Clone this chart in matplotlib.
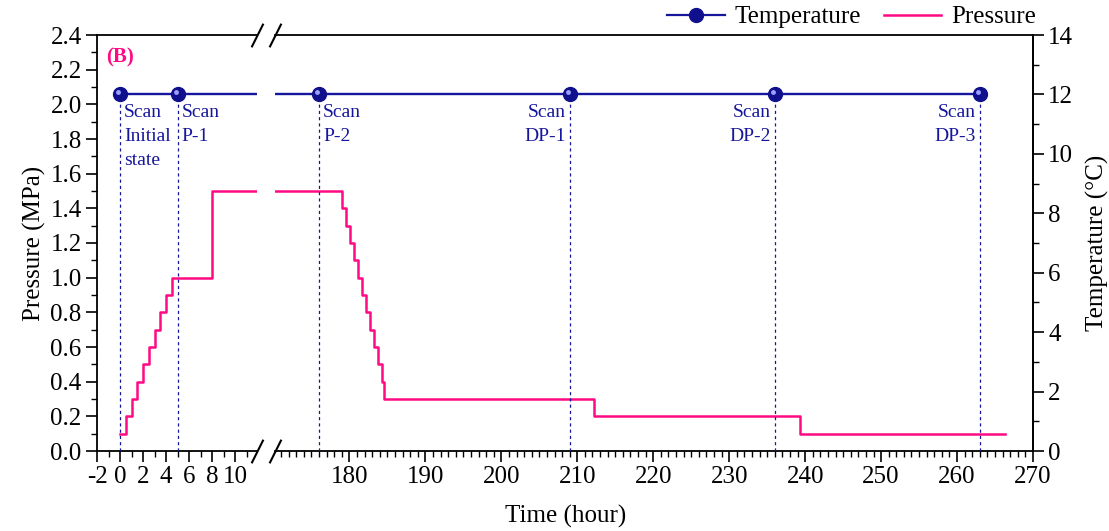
import matplotlib.pyplot as plt
from matplotlib.ticker import MultipleLocator
from matplotlib.transforms import offset_copy

plt.rcParams['font.family'] = ['Liberation Serif', 'DejaVu Serif']
plt.rcParams['axes.unicode_minus'] = False

# Pressure steps: value holds from each hour until the next one
p_hours = [0, 0.5, 1, 1.5, 2, 2.5, 3, 3.5, 4, 4.5, 8,
           179, 179.5, 180.1, 180.6, 181.1, 181.7, 182.2, 182.7, 183.2,
           183.8, 184.3, 184.6, 212.2, 239.3, 266.3]
p_values = [0.1, 0.2, 0.3, 0.4, 0.5, 0.6, 0.7, 0.8, 0.9, 1.0, 1.5,
            1.4, 1.3, 1.2, 1.1, 1.0, 0.9, 0.8, 0.7, 0.6,
            0.5, 0.4, 0.3, 0.2, 0.1, 0.1]

# Scan times and set temperature
t_hours = [0, 5, 176, 209, 236, 263]
t_values = [12, 12, 12, 12, 12, 12]
scan_labels = ["Scan\nInitial\nstate", "Scan\nP-1", "Scan\nP-2",
               "Scan\nDP-1", "Scan\nDP-2", "Scan\nDP-3"]
label_side = ["right", "right", "right", "left", "left", "left"]

PINK = "#ff0a84"
BLUE = "#16169c"
FS = 18

W, H = 1109, 531
fig = plt.figure(figsize=(W / 100, H / 100), dpi=100)
top, bot = 35, 451
ax1 = fig.add_axes([97 / W, 1 - bot / H, (257 - 97) / W, (bot - top) / H])
ax2 = fig.add_axes([275 / W, 1 - bot / H, (1033 - 275) / W, (bot - top) / H],
                   sharey=ax1)
ax1.set_xlim(-2, 11.88)
ax2.set_xlim(170.2, 270)
ax1.set_ylim(0, 2.4)

tw1 = ax1.twinx()
tw2 = ax2.twinx()
for tw in (tw1, tw2):
    tw.set_ylim(0, 14)

for ax, tw in ((ax1, tw1), (ax2, tw2)):
    ax.plot(p_hours, p_values, drawstyle="steps-post", color=PINK, lw=1.8)
    tw.vlines(t_hours, 0, t_values, colors=BLUE, linestyles=(0, (2.5, 2.5)),
              lw=0.9)
    tw.plot(t_hours, t_values, color=BLUE, lw=1.7, marker="o",
            markersize=10, markerfacecolor="#10108c", markeredgecolor="#10108c")
    # small highlight on each sphere marker
    hl = offset_copy(tw.transData, fig=fig, x=-2, y=2, units="dots")
    tw.plot(t_hours, t_values, linestyle="none", marker="o", markersize=3.5,
            markerfacecolor="#9aa0ff", markeredgecolor="none", transform=hl)

# scan annotations
for ax, tw in ((ax1, tw1), (ax2, tw2)):
    lo, hi = ax.get_xlim()
    for h, v, lab, side in zip(t_hours, t_values, scan_labels, label_side):
        if lo <= h <= hi:
            dx = 3 if side == "right" else -3
            tw.annotate(lab, (h, v), xytext=(dx, -7), textcoords="offset points",
                        ha="left" if side == "right" else "right", va="top",
                        color=BLUE, fontsize=14, linespacing=1.55)

# spines and ticks
ax1.spines["right"].set_visible(False)
ax2.spines["left"].set_visible(False)
for s in tw1.spines.values():
    s.set_visible(False)
tw1.tick_params(right=False, labelright=False, which="both")
for s in ("left", "top", "bottom"):
    tw2.spines[s].set_visible(False)
for ax in (ax1, ax2, tw1, tw2):
    for s in ax.spines.values():
        s.set_linewidth(1.3)

ax1.xaxis.set_major_locator(MultipleLocator(2))
ax1.xaxis.set_minor_locator(MultipleLocator(1))
ax2.xaxis.set_major_locator(MultipleLocator(10))
ax2.xaxis.set_minor_locator(MultipleLocator(1))
ax1.yaxis.set_major_locator(MultipleLocator(0.2))
ax1.yaxis.set_minor_locator(MultipleLocator(0.1))
ax1.yaxis.set_major_formatter(plt.FormatStrFormatter("%.1f"))
tw2.yaxis.set_major_locator(MultipleLocator(2))
tw2.yaxis.set_minor_locator(MultipleLocator(1))

for ax in (ax1, ax2, tw2):
    ax.tick_params(which="major", direction="out", length=8, width=1.2,
                   labelsize=FS, pad=3)
    ax.tick_params(which="minor", direction="out", length=4, width=1.0)
ax2.tick_params(axis="y", which="both", left=False, labelleft=False)

ax1.set_ylabel("Pressure (MPa)", fontsize=FS, labelpad=3)
tw2.set_ylabel("Temperature (\u00b0C)", fontsize=FS, labelpad=9)
fig.text(566 / W, 1 - 516 / H, "Time (hour)", ha="center", va="center",
         fontsize=FS)
ax1.text(0.06, 0.945, "(B)", transform=ax1.transAxes, color=PINK,
         fontsize=15, fontweight="bold", va="center")

# break marks on the time axis
kw = dict(marker=[(-0.5, -1), (0.5, 1)], markersize=17, linestyle="none",
          color="k", mec="k", mew=1.5, clip_on=False)
ax1.plot([1, 1], [0, 1], transform=ax1.transAxes, **kw)
ax2.plot([0, 0], [0, 1], transform=ax2.transAxes, **kw)

# legend above the plot
t_handle, = tw2.plot([], [], color=BLUE, lw=1.6, marker="o", markersize=10,
                     markerfacecolor="#10108c", markeredgecolor="#10108c")
p_handle, = ax2.plot([], [], color=PINK, lw=1.8)
fig.legend([t_handle, p_handle], ["Temperature", "Pressure"],
           loc="center right", bbox_to_anchor=(1036 / W, 1 - 17 / H), ncol=2,
           frameon=False, fontsize=FS, handlelength=2.3, handletextpad=0.4,
           columnspacing=0.9, borderpad=0, borderaxespad=0)

fig.savefig("out.png", dpi=100)
